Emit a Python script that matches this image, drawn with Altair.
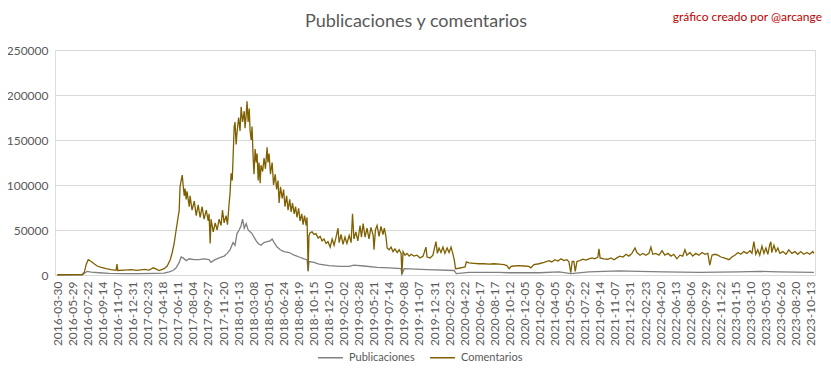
import altair as alt
import pandas as pd

# Etiquetas del eje X (una cada 54 días de la serie)
etiquetas = ["2016-03-30","2016-05-29","2016-07-22","2016-09-14","2016-11-07","2016-12-31",
             "2017-02-23","2017-04-18","2017-06-11","2017-08-04","2017-09-27","2017-11-20",
             "2018-01-13","2018-03-08","2018-05-01","2018-06-24","2018-08-19","2018-10-15","2018-12-10",
             "2019-02-02","2019-03-28","2019-05-21","2019-07-14","2019-09-08","2019-11-07","2019-12-31",
             "2020-02-23","2020-04-22","2020-06-17","2020-08-17","2020-10-12","2020-12-05",
             "2021-02-09","2021-04-05","2021-05-29","2021-07-22","2021-09-14","2021-11-07","2021-12-31",
             "2022-02-23","2022-04-20","2022-06-13","2022-08-06","2022-09-29","2022-11-22",
             "2023-01-15","2023-03-10","2023-05-03","2023-06-26","2023-08-20","2023-10-13"]
paso_etiqueta = 54

# Publicaciones (día de la serie, valor)
dias_pub = [0, 90, 100, 107, 122, 150, 186, 240, 294, 347, 383, 401, 415, 426, 437, 444, 451, 462,
            473, 491, 508, 526, 544, 551, 562, 580, 598, 609, 619, 630, 637, 644, 652, 659, 664,
            670, 677, 684, 691, 698, 705, 713, 720, 730, 741, 752, 763, 770, 777, 788, 799, 813,
            831, 849, 867, 884, 895, 899, 902, 920, 938, 974, 1010, 1046, 1063, 1099, 1146, 1189,
            1232, 1235, 1243, 1325, 1422, 1430, 1475, 1583, 1619, 1726, 1798, 1840, 1905, 2012,
            2084, 2174, 2299, 2442, 2514, 2585, 2711]
val_pub = [200, 300, 2500, 4000, 3200, 2500, 1800, 1500, 1500, 1800, 2000, 3500, 5000, 8000, 14000,
           20000, 19000, 16000, 18000, 17000, 17000, 18000, 17000, 14000, 16500, 19000, 21000, 24000,
           28000, 36000, 33000, 46000, 50000, 55000, 62000, 52000, 57000, 50000, 48000, 46000, 42000,
           38000, 35000, 33000, 36000, 37000, 38000, 40000, 36000, 31000, 28000, 26000, 25000, 22000,
           20000, 18000, 17000, 4000, 15000, 14000, 12000, 10500, 9500, 9500, 11000, 10000, 8500,
           8000, 7000, 1000, 7000, 6000, 5000, 1500, 3000, 3000, 2500, 2500, 3500, 1500, 3500, 4500,
           4000, 3500, 3000, 3500, 4000, 3500, 3000]

# Comentarios (día de la serie, valor)
dias_com = [0, 90, 97, 104, 111, 122, 132, 143, 158, 175, 193, 211, 214, 217, 240, 265, 286, 312,
            329, 344, 355, 365, 383, 394, 405, 412, 419, 426, 433, 437, 440, 444, 448, 451, 455, 458,
            462, 465, 473, 476, 483, 491, 498, 505, 512, 519, 526, 534, 541, 544, 548, 551, 559, 566,
            573, 580, 587, 592, 598, 605, 610, 616, 619, 623, 627, 630, 634, 637, 641, 644, 650, 655,
            659, 664, 670, 673, 677, 680, 684, 688, 691, 695, 698, 702, 705, 709, 713, 716, 720, 723,
            727, 730, 736, 741, 746, 752, 755, 759, 764, 770, 775, 781, 786, 791, 795, 800, 806, 811,
            816, 822, 827, 833, 838, 843, 849, 854, 859, 865, 870, 876, 881, 886, 892, 895, 899, 902,
            906, 913, 920, 927, 935, 942, 949, 956, 963, 970, 978, 985, 992, 999, 1006, 1010, 1017,
            1024, 1031, 1038, 1046, 1053, 1058, 1063, 1070, 1077, 1085, 1090, 1096, 1103, 1110, 1117,
            1124, 1132, 1135, 1140, 1146, 1153, 1160, 1167, 1172, 1178, 1182, 1189, 1196, 1203, 1210,
            1218, 1225, 1232, 1235, 1239, 1246, 1253, 1261, 1268, 1278, 1289, 1300, 1311, 1321, 1325,
            1336, 1346, 1357, 1362, 1368, 1375, 1382, 1389, 1397, 1404, 1411, 1418, 1423, 1427, 1439,
            1454, 1461, 1466, 1475, 1493, 1511, 1529, 1547, 1565, 1583, 1601, 1611, 1619, 1626, 1637,
            1654, 1672, 1690, 1697, 1708, 1726, 1744, 1762, 1772, 1783, 1794, 1805, 1815, 1826, 1833,
            1840, 1845, 1851, 1856, 1862, 1872, 1883, 1894, 1905, 1916, 1926, 1937, 1941, 1945, 1958,
            1973, 1984, 1995, 2005, 2016, 2027, 2038, 2048, 2059, 2070, 2077, 2088, 2098, 2109, 2120,
            2127, 2134, 2145, 2156, 2167, 2177, 2188, 2199, 2209, 2220, 2231, 2241, 2249, 2256, 2267,
            2277, 2288, 2299, 2310, 2321, 2331, 2338, 2346, 2356, 2367, 2378, 2389, 2399, 2407, 2417,
            2428, 2439, 2449, 2460, 2471, 2482, 2489, 2496, 2503, 2510, 2517, 2525, 2532, 2539, 2546,
            2553, 2557, 2560, 2568, 2575, 2582, 2589, 2600, 2611, 2621, 2632, 2643, 2653, 2664, 2675,
            2686, 2696, 2707, 2711]
val_com = [300, 500, 3000, 12000, 17000, 15000, 12500, 10000, 8500, 7000, 6000, 5200, 12000, 5000,
           5500, 6000, 5200, 6200, 5500, 8000, 6500, 5000, 7000, 10000, 17000, 25000, 35000, 50000,
           64000, 72000, 98000, 105000, 111000, 100000, 88000, 96000, 84000, 93000, 76000, 88000,
           72000, 82000, 66000, 78000, 64000, 76000, 62000, 72000, 60000, 68000, 35000, 62000, 48000,
           58000, 50000, 62000, 55000, 72000, 58000, 66000, 56000, 80000, 90000, 113000, 105000,
           130000, 165000, 170000, 145000, 158000, 175000, 160000, 187000, 170000, 182000, 163000,
           178000, 193000, 170000, 185000, 160000, 150000, 165000, 130000, 112000, 140000, 125000,
           135000, 105000, 125000, 102000, 122000, 115000, 130000, 118000, 142000, 125000, 135000,
           112000, 125000, 100000, 112000, 95000, 105000, 80000, 98000, 85000, 95000, 76000, 88000,
           72000, 84000, 70000, 80000, 68000, 76000, 64000, 74000, 60000, 68000, 56000, 66000, 55000,
           64000, 5000, 44000, 47000, 48000, 45000, 46000, 41000, 43000, 38000, 40000, 35000, 37000,
           31000, 40000, 33000, 42000, 52000, 36000, 45000, 34000, 42000, 35000, 44000, 36000, 68000,
           40000, 48000, 38000, 55000, 42000, 57000, 42000, 52000, 40000, 53000, 44000, 28000, 50000,
           55000, 43000, 54000, 45000, 52000, 42000, 30000, 28000, 31000, 26000, 29000, 25000, 28000,
           24000, 1000, 26000, 22000, 24000, 21000, 23000, 21000, 22000, 19000, 21000, 31000, 20000,
           19000, 22000, 37000, 24000, 30000, 25000, 31000, 24000, 30000, 25000, 31000, 23000, 16000,
           7000, 7500, 8500, 9000, 14500, 13500, 13000, 12500, 12500, 12000, 12500, 12000, 11500,
           10500, 7000, 9500, 10000, 10500, 10000, 9500, 8000, 11500, 12500, 14000, 16000, 14500,
           17000, 15500, 18000, 16000, 17000, 15000, 2500, 15000, 15000, 4000, 15000, 16000, 17500,
           16500, 18000, 19000, 18000, 20000, 29000, 19000, 18000, 17500, 19000, 17000, 19000, 21000,
           20000, 23000, 21000, 24000, 30000, 25000, 22000, 24000, 22000, 24000, 31000, 23000, 24000,
           22000, 27000, 22000, 24000, 21000, 23000, 18000, 22000, 21000, 28000, 22000, 25000, 21000,
           24000, 22000, 25000, 23000, 24000, 11000, 22000, 23000, 22000, 20000, 19000, 18000, 17000,
           20000, 22000, 25000, 23000, 26000, 24000, 27000, 24000, 37000, 23000, 28000, 22000, 32000,
           24000, 30000, 23000, 34000, 37000, 25000, 33000, 26000, 30000, 24000, 26000, 23000, 28000,
           24000, 26000, 23000, 26000, 23000, 25000, 23000, 26000, 24000]

series = ["Publicaciones", "Comentarios"]
colores = ["#808080", "#7F6000"]
titulo = "Publicaciones y comentarios"
credito = "gráfico creado por @arcange"
valores_y = [0, 50000, 100000, 150000, 200000, 250000]

df = pd.DataFrame({
    "dia": dias_pub + dias_com,
    "valor": val_pub + val_com,
    "serie": [series[0]] * len(dias_pub) + [series[1]] * len(dias_com),
})

ticks_x = [i * paso_etiqueta for i in range(len(etiquetas))]
arr = "[" + ",".join("'" + e + "'" for e in etiquetas) + "]"
label_expr = arr + "[round(datum.value / %d)]" % paso_etiqueta

FONT = "Lato"
GRIS = "#595959"

lineas = alt.Chart(df).mark_line(strokeWidth=1.3).encode(
    x=alt.X("dia:Q",
            scale=alt.Scale(domain=[-8, 2715], nice=False, zero=False),
            axis=alt.Axis(values=ticks_x, labelExpr=label_expr, labelAngle=-90, title=None,
                          grid=False, ticks=False, domainColor="#D9D9D9", labelColor=GRIS,
                          labelFontSize=12, labelFont=FONT, labelPadding=6, labelOverlap=False)),
    y=alt.Y("valor:Q",
            scale=alt.Scale(domain=[0, 250000], nice=False),
            axis=alt.Axis(values=valores_y, format="d", title=None, domain=False, ticks=False,
                          gridColor="#D9D9D9", labelColor=GRIS, labelFontSize=12,
                          labelFont=FONT, labelPadding=7)),
    color=alt.Color("serie:N",
                    scale=alt.Scale(domain=series, range=colores),
                    legend=alt.Legend(title=None, orient="none", legendX=262, legendY=294,
                                      direction="horizontal", symbolType="stroke",
                                      symbolSize=620, symbolStrokeWidth=1.5,
                                      labelFont=FONT, labelFontSize=11, labelColor=GRIS,
                                      columnPadding=12, labelOffset=5)),
)

texto_titulo = alt.Chart(pd.DataFrame({"t": [titulo]})).mark_text(
    align="center", baseline="middle", color=GRIS, fontSize=18, font=FONT
).encode(x=alt.value(361), y=alt.value(-28), text="t:N")

texto_credito = alt.Chart(pd.DataFrame({"t": [credito]})).mark_text(
    align="right", baseline="middle", color="#C00000", fontSize=12, font=FONT
).encode(x=alt.value(767), y=alt.value(-33), text="t:N")

chart = alt.layer(lineas, texto_titulo, texto_credito).properties(
    width=760, height=225,
    padding={"left": 47, "top": 42, "right": 8, "bottom": 104},
    autosize=alt.AutoSizeParams(type="none"),
).configure_view(strokeWidth=0).configure(background="white")

chart.save("out.html", embed_options={"renderer": "svg", "actions": False})
